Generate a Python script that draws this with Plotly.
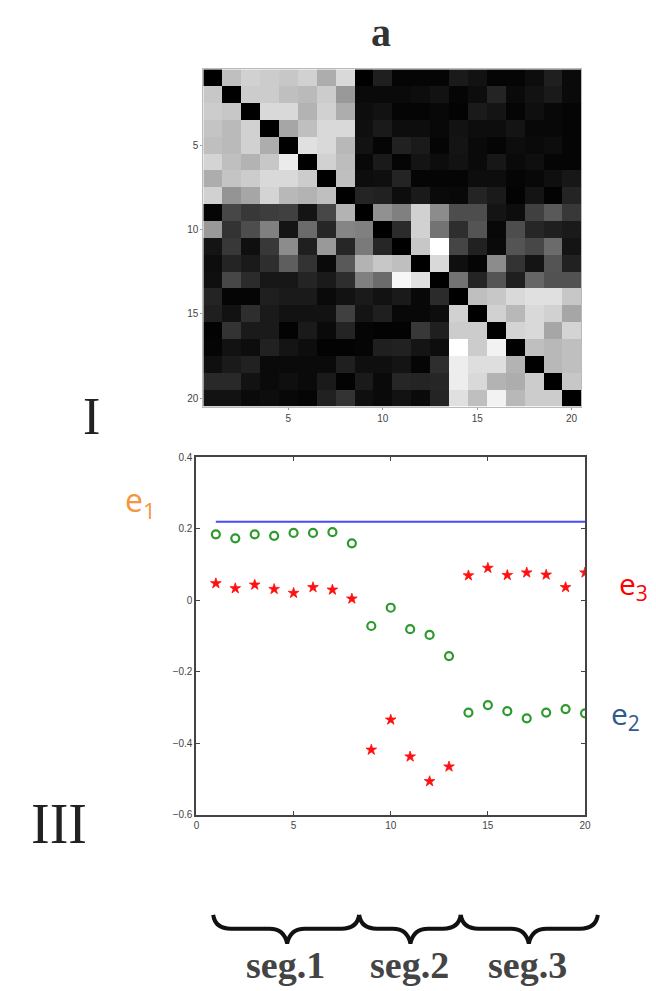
import plotly.graph_objects as go

W, H = 656, 991

# ---------------- data ----------------
idx = list(range(1, 21))

affinity = [
    [0, .75, .82, .80, .78, .82, .68, .85, 0, .12, .02, .02, .02, .10, .07, .02, .02, .05, .12, .04],
    [.78, 0, .80, .80, .75, .73, .80, .60, .04, .04, .04, .05, .07, .02, .05, .14, .04, .07, .10, .04],
    [.80, .78, 0, .85, .85, .70, .82, .68, .05, .07, .02, .02, .03, .01, .10, .08, .02, .06, .03, .02],
    [.77, .73, .82, 0, .65, .75, .85, .85, .06, .10, .05, .05, .03, .07, .05, .05, .08, .03, .03, .02],
    [.75, .73, .82, .68, 0, .88, .85, .72, .07, .02, .13, .10, .02, .08, .04, .02, .05, .04, .05, .02],
    [.83, .75, .70, .78, .92, 0, .82, .74, .03, .10, .02, .08, .05, .07, .04, .09, .04, .06, .02, .02],
    [.68, .77, .80, .85, .85, .80, 0, .75, .05, .06, .14, .02, .02, .02, .05, .05, .02, .03, .06, .09],
    [.82, .58, .65, .83, .72, .70, .75, 0, .14, .13, .05, .10, .04, .03, .14, .10, .01, .08, .01, .14],
    [.02, .28, .22, .24, .25, .08, .28, .70, 0, .57, .50, .82, .55, .30, .30, .08, .05, .25, .35, .22],
    [.60, .20, .30, .50, .08, .42, .15, .52, .50, 0, .17, .82, .45, .18, .33, .03, .30, .15, .12, .10],
    [.08, .22, .06, .22, .55, .12, .60, .15, .48, .15, 0, .78, 1.0, .27, .13, .04, .33, .28, .42, .08],
    [.05, .14, .10, .18, .37, .20, .04, .35, .70, .78, .75, 0, .85, .06, .02, .55, .20, .08, .33, .13],
    [.06, .28, .17, .09, .09, .14, .10, .18, .50, .42, .97, .88, 0, .45, .14, .33, .12, .40, .32, .32],
    [.14, .02, .02, .12, .10, .10, .04, .07, .10, .07, .10, .03, .17, 0, .75, .78, .85, .88, .88, .78],
    [.12, .07, .18, .10, .07, .07, .07, .25, .08, .12, .03, .03, .05, .82, 0, .82, .72, .85, .82, .65],
    [.01, .20, .10, .10, .01, .10, .04, .14, .02, .01, .01, .22, .12, .80, .80, 0, .83, .85, .65, .83],
    [.02, .07, .05, .13, .08, .05, .01, .01, .02, .12, .13, .08, .05, 1.0, .80, .95, 0, .75, .72, .75],
    [.06, .10, .13, .04, .04, .04, .04, .12, .06, .06, .08, .02, .18, .93, .87, .87, .70, 0, .72, .75],
    [.16, .16, .07, .04, .06, .04, .10, .01, .10, .04, .15, .14, .15, .93, .85, .70, .68, .80, 0, .78],
    [.07, .07, .04, .05, .03, .02, .13, .20, .06, .04, .07, .04, .14, .88, .75, .95, .72, .80, .80, 0],
]

e1 = [0.219] * 20
e2 = [0.184, 0.173, 0.184, 0.180, 0.188, 0.188, 0.190, 0.159, -0.072, -0.021,
      -0.081, -0.097, -0.156, -0.314, -0.293, -0.310, -0.330, -0.314, -0.304, -0.316]
e3 = [0.047, 0.033, 0.043, 0.031, 0.020, 0.036, 0.029, 0.004, -0.418, -0.334,
      -0.437, -0.506, -0.465, 0.069, 0.090, 0.070, 0.077, 0.071, 0.036, 0.077]

tick_vals = [5, 10, 15, 20]
y_ticks = [0.4, 0.2, 0, -0.2, -0.4, -0.6]
y_labels = ["0.4", "0.2", "0", "\u22120.2", "\u22120.4", "\u22120.6"]
x_ticks = [0, 5, 10, 15, 20]
seg_labels = ["seg.1", "seg.2", "seg.3"]


def px(x):
    return x / W


def py(y):
    return 1 - y / H


fig = go.Figure()

fig.add_trace(go.Heatmap(
    z=affinity, x=idx, y=idx,
    colorscale=[[0, "black"], [1, "white"]], zmin=0, zmax=1,
    showscale=False, xaxis="x", yaxis="y", hoverinfo="skip",
))

fig.add_trace(go.Scatter(
    x=idx, y=e1, mode="lines", line=dict(color="#4a4aff", width=2),
    xaxis="x2", yaxis="y2", showlegend=False,
))
fig.add_trace(go.Scatter(
    x=idx, y=e2, mode="markers",
    marker=dict(symbol="circle-open", size=8, color="#2e9a2e", line=dict(width=2.2, color="#2e9a2e")),
    xaxis="x2", yaxis="y2", showlegend=False,
))
fig.add_trace(go.Scatter(
    x=idx, y=e3, mode="markers",
    marker=dict(symbol="star", size=8, color="#ff1010", line=dict(width=0.8, color="#ff1010")),
    xaxis="x2", yaxis="y2", showlegend=False,
))

tickfont = dict(family="Liberation Sans, Arial, sans-serif", size=10, color="#444")

fig.update_layout(
    width=W, height=H,
    margin=dict(l=0, r=0, t=0, b=0),
    paper_bgcolor="white", plot_bgcolor="white",
    showlegend=False,
    xaxis=dict(domain=[px(195), px(578)], anchor="y", range=[0.5, 20.5],
               tickvals=tick_vals, ticks="outside", ticklen=2, tickcolor="#999",
               showgrid=False, zeroline=False, tickfont=tickfont,
               showline=True, linecolor="#bbb", linewidth=1, mirror=True),
    yaxis=dict(domain=[py(398), py(57)], anchor="x", range=[20.5, 0.5],
               tickvals=tick_vals, ticks="outside", ticklen=2, tickcolor="#999",
               showgrid=False, zeroline=False, tickfont=tickfont,
               showline=True, linecolor="#bbb", linewidth=1, mirror=True),
    xaxis2=dict(domain=[px(188), px(582)], anchor="y2", range=[0, 20],
                tickvals=x_ticks, ticks="inside", ticklen=4, tickcolor="#444",
                showgrid=False, zeroline=False, tickfont=tickfont,
                showline=True, linecolor="#444", linewidth=2, mirror="ticks"),
    yaxis2=dict(domain=[py(811), py(449)], anchor="x2", range=[-0.6, 0.4],
                tickvals=y_ticks, ticktext=y_labels, ticks="inside", ticklen=4, tickcolor="#444",
                showgrid=False, zeroline=False, tickfont=tickfont,
                showline=True, linecolor="#444", linewidth=2, mirror="ticks"),
)

serif = "Liberation Serif, DejaVu Serif, serif"
sans = "Open Sans, sans-serif"
ann = []
ann.append(dict(x=px(375), y=py(20), text="<b>a</b>", font=dict(family=serif, size=40, color="#333")))
ann.append(dict(x=px(82), y=py(408), text="I", font=dict(family=serif, size=52, color="#222")))
ann.append(dict(x=px(49), y=py(820), text="III", font=dict(family=serif, size=56, color="#222")))
ann.append(dict(x=px(131), y=py(494), text="e<sub>1</sub>", font=dict(family=sans, size=32, color="#f5963e")))
ann.append(dict(x=px(614), y=py(578), xanchor="left", text="e<sub>3</sub>",
                font=dict(family=sans, size=30, color="#ff0000")))
ann.append(dict(x=px(606), y=py(710), xanchor="left", text="e<sub>2</sub>",
                font=dict(family=sans, size=30, color="#2f5a8e")))
for lab, cx in zip(seg_labels, [278, 404, 524]):
    ann.append(dict(x=px(cx), y=py(963), text="<b>" + lab + "</b>",
                    font=dict(family=serif, size=38, color="#444")))
for a in ann:
    a.setdefault("xanchor", "center")
    a.update(xref="paper", yref="paper", showarrow=False, yanchor="middle")
fig.update_layout(annotations=ann)


def brace(x0, xm, x1, ytop=912, ymid=926, ybot=941):
    q = 18
    pts = [
        f"M {px(x0)},{py(ytop)}",
        f"Q {px(x0 + 2)},{py(ymid)} {px(x0 + q)},{py(ymid)}",
        f"L {px(xm - q)},{py(ymid)}",
        f"Q {px(xm - 3)},{py(ymid)} {px(xm)},{py(ybot)}",
        f"Q {px(xm + 3)},{py(ymid)} {px(xm + q)},{py(ymid)}",
        f"L {px(x1 - q)},{py(ymid)}",
        f"Q {px(x1 - 2)},{py(ymid)} {px(x1)},{py(ytop)}",
    ]
    return dict(type="path", xref="paper", yref="paper", path=" ".join(pts),
                line=dict(color="#111", width=4))


fig.update_layout(shapes=[brace(205, 280, 353), brace(353, 405, 456), brace(456, 525, 595)])

fig.write_html("out.html")
